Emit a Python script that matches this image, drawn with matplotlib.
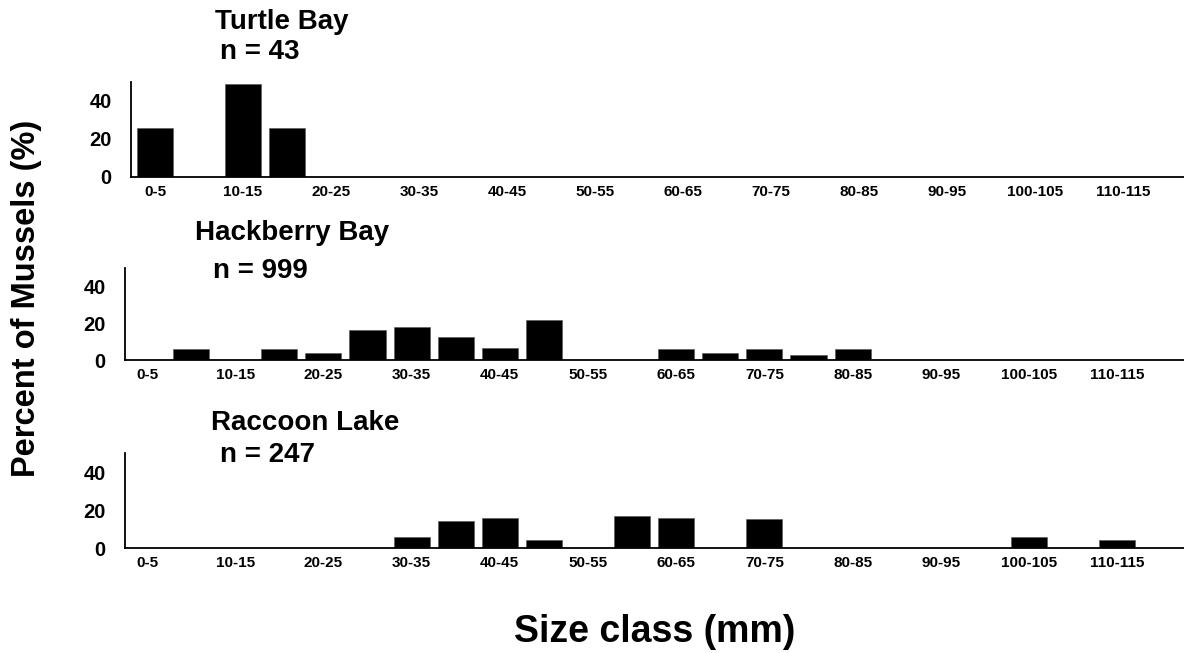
import matplotlib
matplotlib.use("Agg")
import matplotlib.pyplot as plt
import numpy as np

plt.rcParams['font.family'] = ['Liberation Sans', 'DejaVu Sans']
plt.rcParams['font.weight'] = 'bold'

size_classes = ['0-5', '5-10', '10-15', '15-20', '20-25', '25-30', '30-35', '35-40',
                '40-45', '45-50', '50-55', '55-60', '60-65', '65-70', '70-75', '75-80',
                '80-85', '85-90', '90-95', '95-100', '100-105', '105-110', '110-115', '115-120']

turtle_bay = [25.6, 0, 48.8, 25.6, 0, 0, 0, 0, 0, 0, 0, 0,
              0, 0, 0, 0, 0, 0, 0, 0, 0, 0, 0, 0]
hackberry_bay = [0, 6.0, 0, 6.0, 4.0, 16.2, 18.0, 12.4, 6.7, 21.9, 0, 0,
                 5.8, 4.0, 5.8, 2.9, 5.8, 0, 0, 0, 0, 0, 0, 0]
raccoon_lake = [0, 0, 0, 0, 0, 0, 5.9, 14.4, 16.0, 4.2, 0, 17.0,
                16.0, 0, 15.1, 0, 0, 0, 0, 0, 5.9, 0, 4.2, 0]

sites = ['Turtle Bay', 'Hackberry Bay', 'Raccoon Lake']
counts = [43, 999, 247]

W, H = 1184, 653
fig = plt.figure(figsize=(W / 100, H / 100), dpi=100)

# panel boxes in pixels: left, top, bottom, x of first category centre, px per category
panels = [
    (131, 82, 177, 155, 44.0),
    (125, 268, 360, 147, 44.1),
    (125, 453, 548, 147, 44.1),
]
# title / n label positions (pixel centres)
title_pos = [(282, 22), (292, 233), (305, 423)]
n_pos = [(260, 52), (260, 271), (268, 455)]

x = np.arange(len(size_classes))
for (left, top, bottom, x0, step), vals, site, n, tp, npos in zip(
        panels, [turtle_bay, hackberry_bay, raccoon_lake], sites, counts, title_pos, n_pos):
    ax = fig.add_axes([left / W, 1 - bottom / H, (W - left) / W, (bottom - top) / H])
    ax.bar(x, vals, width=0.82, color='black', edgecolor='#555555', linewidth=0.4)
    ax.set_xlim(-(x0 - left) / step, (W - x0) / step)
    ax.set_ylim(0, 50)
    ax.set_yticks([0, 20, 40])
    ax.set_xticks(x[::2])
    ax.set_xticklabels(size_classes[::2], fontsize=11, fontweight='bold')
    ax.tick_params(axis='y', length=0, pad=14, labelsize=14.5)
    ax.tick_params(axis='x', length=0, pad=6)
    for lab in ax.get_yticklabels():
        lab.set_fontweight('bold')
    for s in ['top', 'right']:
        ax.spines[s].set_visible(False)
    for s in ['left', 'bottom']:
        ax.spines[s].set_linewidth(1.3)
    fig.text(tp[0] / W, 1 - tp[1] / H, site, ha='center', va='center',
             fontsize=20, fontweight='bold')
    fig.text(npos[0] / W, 1 - npos[1] / H, 'n = %d' % n, ha='center', va='center',
             fontsize=20, fontweight='bold')

fig.text(27 / W, 1 - 298 / H, 'Percent of Mussels (%)', rotation=90,
         ha='center', va='center', fontsize=23.5, fontweight='bold')
fig.text(655 / W, 1 - 632 / H, 'Size class (mm)', ha='center', va='center',
         fontsize=27, fontweight='bold')

fig.savefig('out.png', dpi=100)
